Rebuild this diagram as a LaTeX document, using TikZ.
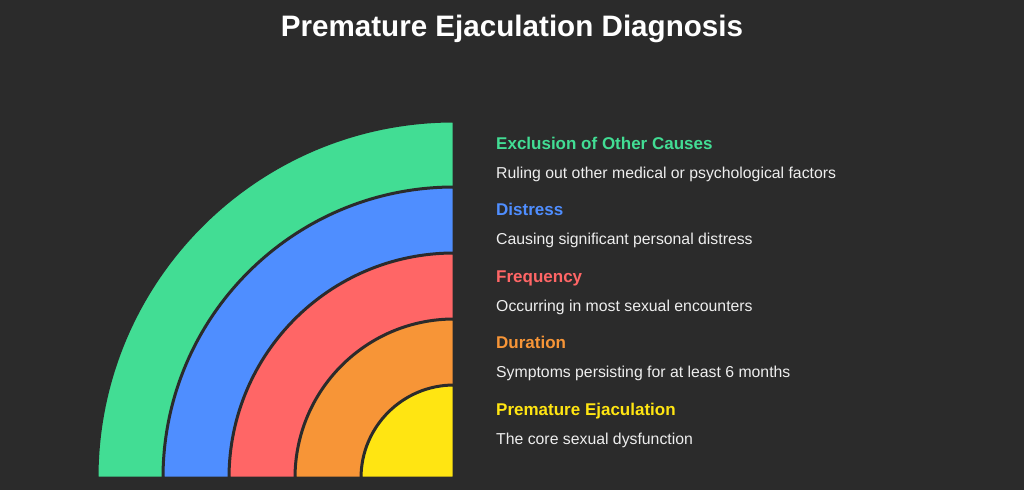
\documentclass[tikz,border=0pt]{standalone}
\usepackage{fontspec}
\setmainfont{Liberation Sans}
\definecolor{bg}{HTML}{2B2B2B}
\definecolor{cgreen}{HTML}{42DD94}
\definecolor{cblue}{HTML}{4F8EFF}
\definecolor{cred}{HTML}{FF6666}
\definecolor{corange}{HTML}{F79537}
\definecolor{cyellow}{HTML}{FFE512}
\definecolor{txt}{HTML}{EEEEEE}
\tikzset{
  band/.style = {draw = bg, line width = 3pt, line join = round},
  head/.style = {anchor = base west, inner sep = 0pt, font = \fontsize{17}{20}\selectfont\bfseries},
  desc/.style = {anchor = base west, inner sep = 0pt, text = txt, font = \fontsize{15.8}{18}\selectfont}
}
\begin{document}
\begin{tikzpicture}[x = 1pt, y = -1pt]
\fill[bg] (0,0) rectangle (1024,490);
\useasboundingbox (0,0) rectangle (1024,490);
\coordinate (c) at (454,478);

\node[anchor = base, inner sep = 0pt, text = white, font = \fontsize{29.6}{36}\selectfont\bfseries] (title) at (512,36) {Premature Ejaculation Diagnosis};

% y axis points down, so the quarter runs from 180 to 270
\filldraw[band, fill = cgreen] (c) -- ++(-357,0) arc[start angle = 180, end angle = 270, radius = 357] -- cycle;
\filldraw[band, fill = cblue] (c) -- ++(-291,0) arc[start angle = 180, end angle = 270, radius = 291] -- cycle;
\filldraw[band, fill = cred] (c) -- ++(-225,0) arc[start angle = 180, end angle = 270, radius = 225] -- cycle;
\filldraw[band, fill = corange] (c) -- ++(-159,0) arc[start angle = 180, end angle = 270, radius = 159] -- cycle;
\filldraw[band, fill = cyellow] (c) -- ++(-93,0) arc[start angle = 180, end angle = 270, radius = 93] -- cycle;

\node[head, text = cgreen] (h1) at (496,149) {Exclusion of Other Causes};
\node[desc] (d1) at (496,178) {Ruling out other medical or psychological factors};
\node[head, text = cblue] (h2) at (496,215.5) {Distress};
\node[desc] (d2) at (496,244.5) {Causing significant personal distress};
\node[head, text = cred] (h3) at (496,282) {Frequency};
\node[desc] (d3) at (496,311) {Occurring in most sexual encounters};
\node[head, text = corange] (h4) at (496,348.5) {Duration};
\node[desc] (d4) at (496,377.5) {Symptoms persisting for at least 6 months};
\node[head, text = cyellow] (h5) at (496,415) {Premature Ejaculation};
\node[desc] (d5) at (496,444) {The core sexual dysfunction};
\end{tikzpicture}
\end{document}
